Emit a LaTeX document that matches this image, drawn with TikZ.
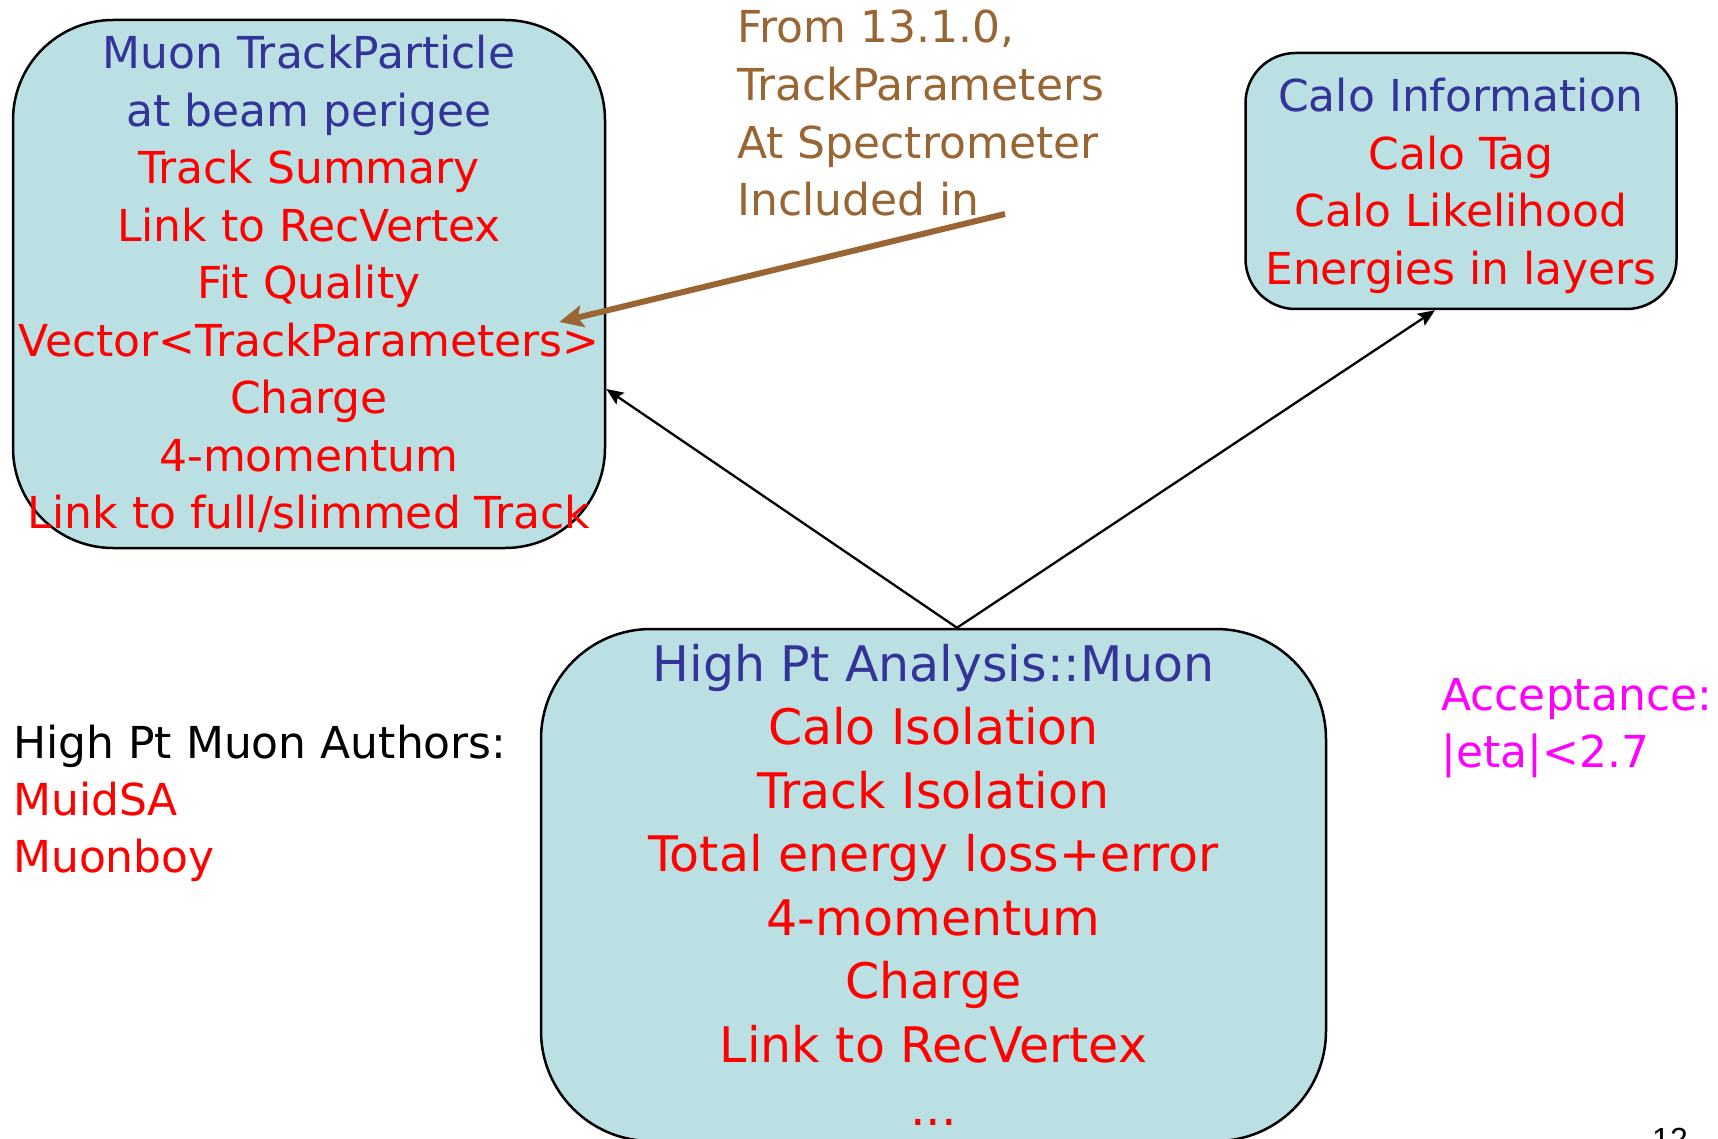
\documentclass[tikz,border=0pt]{standalone}
\usepackage{fontspec}
\setmainfont{DejaVu Sans}
\newfontfamily\pagenumfont{Liberation Sans}
\usetikzlibrary{arrows.meta}

\definecolor{boxfill}{RGB}{187,224,227}
\definecolor{titleblue}{RGB}{51,51,153}
\definecolor{itemred}{RGB}{255,0,0}
\definecolor{notebrown}{RGB}{153,102,51}
\definecolor{accmagenta}{RGB}{255,0,255}

\begin{document}
\begin{tikzpicture}[x=1pt,y=-1pt,
  classbox/.style={draw=black, line width=2.5pt, fill=boxfill, align=center, inner sep=0pt},
  smalltext/.style={font=\fontsize{44}{57.5}\selectfont},
  bigtext/.style={font=\fontsize{49}{63.5}\selectfont},
  link/.style={draw=black, line width=2.3pt, -{Stealth[length=17pt,width=14pt,inset=3pt]}},
  note/.style={draw=notebrown, line width=6pt, -{Stealth[length=24pt,width=22pt,inset=5pt]}},
  plain/.style={inner sep=0pt, anchor=base west, smalltext}]

\useasboundingbox (0,0) rectangle (1718,1139);
\clip (0,0) rectangle (1718,1139);
\fill[white] (0,0) rectangle (1718,1139);

% AOD muon track particle
\node[classbox, smalltext, rounded corners=100pt, minimum width=592pt, minimum height=528pt]
  (track) at (309,284) {%
  \textcolor{titleblue}{Muon TrackParticle}\\
  \textcolor{titleblue}{at beam perigee}\\
  \textcolor{itemred}{Track Summary}\\
  \textcolor{itemred}{Link to RecVertex}\\
  \textcolor{itemred}{Fit Quality}\\
  \textcolor{itemred}{Vector<TrackParameters>}\\
  \textcolor{itemred}{Charge}\\
  \textcolor{itemred}{4-momentum}\\
  \textcolor{itemred}{Link to full/slimmed Track}};

% calorimeter information
\node[classbox, smalltext, rounded corners=50pt, minimum width=431pt, minimum height=256pt]
  (calo) at (1461,181) {%
  \rule{0pt}{43pt}\textcolor{titleblue}{Calo Information}\\
  \textcolor{itemred}{Calo Tag}\\
  \textcolor{itemred}{Calo Likelihood}\\
  \textcolor{itemred}{Energies in layers}};

% high-pt analysis muon
\node[classbox, bigtext, rounded corners=110pt, minimum width=785pt, minimum height=512pt]
  (muon) at (933.5,885) {%
  \textcolor{titleblue}{High Pt Analysis::Muon}\\
  \textcolor{itemred}{Calo Isolation}\\
  \textcolor{itemred}{Track Isolation}\\
  \textcolor{itemred}{Total energy loss+error}\\
  \textcolor{itemred}{4-momentum}\\
  \textcolor{itemred}{Charge}\\
  \textcolor{itemred}{Link to RecVertex}\\
  \textcolor{itemred}{...}};

% links from the muon
\coordinate (apex) at ([xshift=23.5pt]muon.north);
\draw[link] (apex) -- ([yshift=-105pt]track.east);
\draw[link] (apex) -- ([xshift=-26pt]calo.south);

% release note
\node[plain, text=notebrown] (from) at (737,43) {From 13.1.0,};
\node[plain, text=notebrown] (tpar) at (737,101) {TrackParameters};
\node[plain, text=notebrown] (spec) at (737,159) {At Spectrometer};
\node[plain, text=notebrown] (incl) at (737,216) {Included in};
\coordinate (notestart) at (1005,214);
\draw[note] (notestart) -- ([xshift=-47pt,yshift=-38pt]track.east);

% authors
\node[plain, text=black] (authors) at (13,758) {High Pt Muon Authors:};
\node[plain, text=itemred] (muidsa) at (13,815) {MuidSA};
\node[plain, text=itemred] (muonboy) at (13,872) {Muonboy};

% acceptance
\node[plain, text=accmagenta] (acc) at (1441,710) {Acceptance:};
\node[plain, text=accmagenta] (eta) at (1441,767) {|eta|<2.7};

% page number
\node[inner sep=0pt, anchor=base west, font=\pagenumfont\fontsize{32}{38}\selectfont]
  (pagenum) at (1652,1150) {12};
\end{tikzpicture}
\end{document}
